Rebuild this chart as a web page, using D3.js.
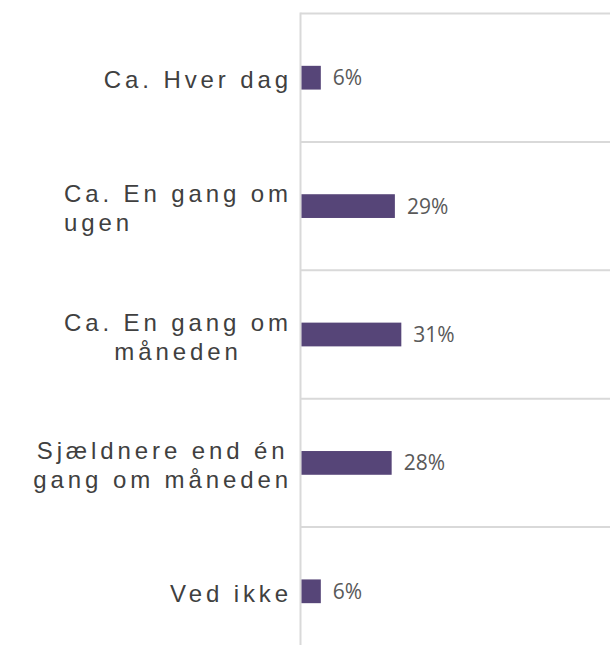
<!DOCTYPE html>
<html>
<head>
<meta charset="utf-8">
<script src="https://cdn.jsdelivr.net/npm/d3@7"></script>
<style>
  html, body { margin: 0; padding: 0; background: #fff; }
  svg { display: block; }
</style>
</head>
<body>
<script>
// Survey answers: how often, with share of respondents (%)
const categories = [
  ["Ca. Hver dag"],
  ["Ca. En gang om", "ugen"],
  ["Ca. En gang om", "måneden"],
  ["Sjældnere end én", "gang om måneden"],
  ["Ved ikke"]
];
const lineAlign = [
  ["middle"],
  ["middle", "first-start"],
  ["middle", "middle"],
  ["middle", "middle"],
  ["middle"]
];
const values = [6, 29, 31, 28, 6];
const valueLabels = ["6%", "29%", "31%", "28%", "6%"];

const W = 610, H = 645;
const plot = { left: 300.5, top: 13.5, right: 622.5, bottom: 655.5 };

const svg = d3.select("body").append("svg")
  .attr("width", W).attr("height", H);

const x = d3.scaleLinear().domain([0, 100]).range([plot.left, plot.right]);
const y = d3.scaleBand().domain(d3.range(values.length))
  .range([plot.top, plot.bottom]).paddingInner(0.815).paddingOuter(0.4075);

const gridColor = "#d9d9d9";

// category boundary gridlines
const bounds = d3.range(values.length).map(i => y(i) - y.step() * y.paddingInner() / 2);
svg.append("g").selectAll("line").data(bounds).join("line")
  .attr("x1", plot.left).attr("x2", W)
  .attr("y1", d => d).attr("y2", d => d)
  .attr("stroke", gridColor).attr("stroke-width", 2);

// vertical category axis
svg.append("line")
  .attr("x1", plot.left).attr("x2", plot.left)
  .attr("y1", plot.top - 1).attr("y2", H)
  .attr("stroke", gridColor).attr("stroke-width", 2);

// bars
svg.append("g").selectAll("rect").data(values).join("rect")
  .attr("x", x(0) + 1)
  .attr("y", (d, i) => y(i))
  .attr("width", d => x(d) - x(0))
  .attr("height", y.bandwidth())
  .attr("fill", "#564578");

// value labels
svg.append("g").selectAll("text").data(values).join("text")
  .attr("x", d => x(d) + 13)
  .attr("y", (d, i) => y(i) + y.bandwidth() / 2)
  .attr("dy", "0.36em")
  .attr("font-family", "'Open Sans', sans-serif")
  .attr("font-size", 21)
  .attr("fill", "#595959")
  .text((d, i) => valueLabels[i]);

// category labels, wrapped lines centred on a common block
const labelRight = 292;
const lineH = 29;
const lab = svg.append("g")
  .attr("font-family", "'Liberation Sans', Arial, sans-serif")
  .attr("font-size", 24)
  .attr("letter-spacing", 3.9)
  .attr("fill", "#404040");

categories.forEach((lines, i) => {
  const cy = y(i) + y.bandwidth() / 2 + 2;
  const g = lab.append("g");
  const texts = lines.map((ln, k) => g.append("text")
    .attr("y", cy + (k - (lines.length - 1) / 2) * lineH)
    .attr("dy", "0.36em")
    .text(ln));
  const widths = texts.map(t => t.node().getComputedTextLength());
  const blockW = d3.max(widths);
  const cx = labelRight - blockW / 2;
  texts.forEach((t, k) => {
    const a = lineAlign[i][k];
    if (a === "first-start") {
      t.attr("x", cx - widths[0] / 2).attr("text-anchor", "start");
    } else {
      t.attr("x", cx).attr("text-anchor", "middle");
    }
  });
});
</script>
</body>
</html>
